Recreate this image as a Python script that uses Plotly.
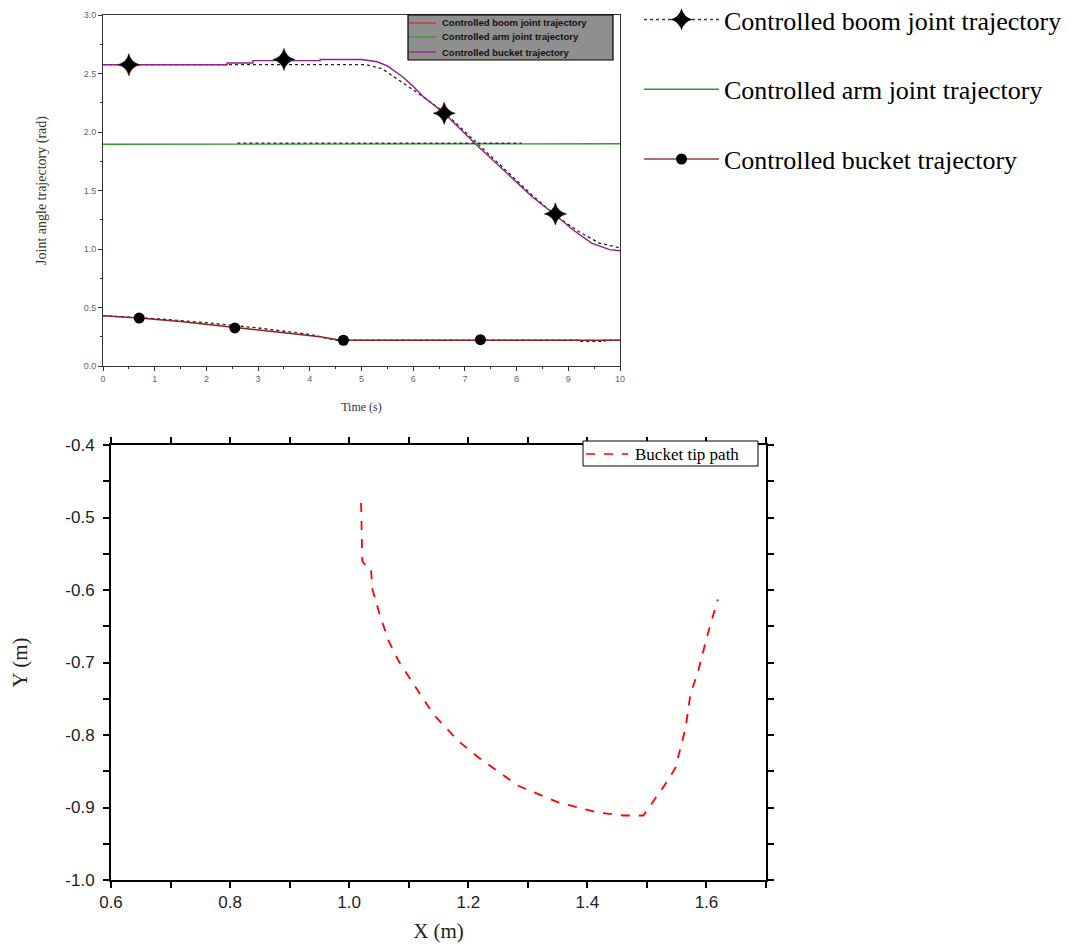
import plotly.graph_objects as go

# ---------------- Top chart data ----------------
boom_t = [0, 2.4, 2.4, 2.9, 2.9, 4.2, 4.2, 5.0, 5.3, 5.5, 5.8, 6.0, 6.2, 6.6, 7.2, 7.75, 8.3, 8.75, 9.1, 9.45, 9.8, 10]
boom_y = [2.575, 2.575, 2.59, 2.59, 2.61, 2.61, 2.62, 2.62, 2.60, 2.565, 2.47, 2.39, 2.30, 2.16, 1.90, 1.675, 1.447, 1.29, 1.16, 1.05, 0.995, 0.985]
boom_ref_t = [0, 5.1, 5.4, 5.7, 6.0, 6.6, 7.2, 7.8, 8.3, 8.8, 9.2, 9.6, 10]
boom_ref_y = [2.575, 2.575, 2.54, 2.45, 2.36, 2.17, 1.92, 1.67, 1.46, 1.27, 1.15, 1.05, 1.01]
boom_mk_t = [0.5, 3.5, 6.6, 8.75]
boom_mk_y = [2.575, 2.62, 2.16, 1.30]

arm_t = [0, 2.6, 2.6, 10]
arm_y = [1.895, 1.895, 1.90, 1.90]
arm_ref_t = [2.6, 8.1]
arm_ref_y = [1.905, 1.905]

bucket_t = [0, 0.7, 1.5, 2.5, 3.5, 4.2, 4.6, 10]
bucket_y = [0.43, 0.41, 0.38, 0.33, 0.285, 0.25, 0.22, 0.22]
bucket_ref_t = [0, 1, 2, 3, 4, 4.5, 9.2, 9.2, 9.7, 9.7, 10]
bucket_ref_y = [0.43, 0.405, 0.37, 0.325, 0.27, 0.22, 0.22, 0.21, 0.21, 0.22, 0.22]
bucket_mk_t = [0.7, 2.55, 4.65, 7.3]
bucket_mk_y = [0.41, 0.325, 0.22, 0.225]

top_x_ticks = [0, 1, 2, 3, 4, 5, 6, 7, 8, 9, 10]
top_y_ticks = [0.0, 0.5, 1.0, 1.5, 2.0, 2.5, 3.0]

inner_legend_names = ["Controlled boom joint trajectory",
                      "Controlled arm joint trajectory",
                      "Controlled bucket trajectory"]

# ---------------- Bottom chart data ----------------
tip_x = [1.020, 1.022, 1.028, 1.036, 1.037, 1.039, 1.051, 1.066, 1.083, 1.112, 1.141, 1.183, 1.217,
         1.284, 1.351, 1.418, 1.460, 1.494, 1.535, 1.548, 1.565, 1.573, 1.586, 1.602, 1.619]
tip_y = [-0.480, -0.560, -0.567, -0.569, -0.575, -0.599, -0.633, -0.670, -0.698, -0.734, -0.771, -0.808, -0.831,
         -0.870, -0.893, -0.907, -0.911, -0.911, -0.863, -0.845, -0.790, -0.744, -0.712, -0.661, -0.613]
tip_name = "Bucket tip path"
bottom_x_ticks = [0.6, 0.8, 1.0, 1.2, 1.4, 1.6]
bottom_y_ticks = [-1.0, -0.9, -0.8, -0.7, -0.6, -0.5, -0.4]

PURPLE = "#8e1f8e"
GREEN = "#2e9a2e"
DRED = "#8b2323"
inner_legend_colors = ["#c0392b", GREEN, "#a020a0"]

# page body has an 8px margin: figure occupies window pixels 8..1070 x 8..945
OFF = 8
W, H = 1070 - OFF, 945 - OFF
def px_x(p):
    return (p - OFF) / W
def px_y(p):
    return 1 - (p - OFF) / H

fig = go.Figure()

# --- top chart curves ---
fig.add_trace(go.Scatter(x=boom_ref_t, y=boom_ref_y, mode="lines",
                         line=dict(color="#222", width=1.3, dash="dot"), showlegend=False, xaxis="x", yaxis="y"))
fig.add_trace(go.Scatter(x=boom_t, y=boom_y, mode="lines",
                         line=dict(color=PURPLE, width=1.4), showlegend=False, xaxis="x", yaxis="y"))
fig.add_trace(go.Scatter(x=arm_t, y=arm_y, mode="lines",
                         line=dict(color=GREEN, width=1.4), showlegend=False, xaxis="x", yaxis="y"))
fig.add_trace(go.Scatter(x=arm_ref_t, y=arm_ref_y, mode="lines",
                         line=dict(color="#222", width=1.3, dash="dot"), showlegend=False, xaxis="x", yaxis="y"))
fig.add_trace(go.Scatter(x=bucket_ref_t, y=bucket_ref_y, mode="lines",
                         line=dict(color="#222", width=1.3, dash="dot"), showlegend=False, xaxis="x", yaxis="y"))
fig.add_trace(go.Scatter(x=bucket_t, y=bucket_y, mode="lines",
                         line=dict(color=DRED, width=1.4), showlegend=False, xaxis="x", yaxis="y"))
fig.add_trace(go.Scatter(x=boom_mk_t, y=boom_mk_y, mode="markers",
                         marker=dict(symbol="star-diamond", size=16, color="black",
                                     line=dict(color="#333", width=0.5)),
                         showlegend=False, xaxis="x", yaxis="y"))
fig.add_trace(go.Scatter(x=bucket_mk_t, y=bucket_mk_y, mode="markers",
                         marker=dict(symbol="circle", size=11, color="black"),
                         showlegend=False, xaxis="x", yaxis="y"))

# --- outer legend (legend2) entries ---
fig.add_trace(go.Scatter(x=[None], y=[None], mode="lines+markers", name="Controlled boom joint trajectory",
                         line=dict(color="#6a1b6a", width=1.5, dash="dot"),
                         marker=dict(symbol="star-diamond", size=18, color="black"),
                         legend="legend2", legendgroup="a", xaxis="x", yaxis="y"))
fig.add_trace(go.Scatter(x=[None], y=[None], mode="lines", name="Controlled arm joint trajectory",
                         line=dict(color=GREEN, width=1.5),
                         legend="legend2", legendgroup="b", xaxis="x", yaxis="y"))
fig.add_trace(go.Scatter(x=[None], y=[None], mode="lines+markers", name="Controlled bucket trajectory",
                         line=dict(color="#8b4040", width=1.5),
                         marker=dict(symbol="circle", size=11, color="black"),
                         legend="legend2", legendgroup="c", xaxis="x", yaxis="y"))

# --- bottom chart ---
fig.add_trace(go.Scatter(x=tip_x, y=tip_y, mode="lines", name=tip_name,
                         line=dict(color="#ff0000", width=1.8, dash="dash"),
                         showlegend=False, xaxis="x2", yaxis="y2"))

# --- inner legend of top chart, drawn as shapes + text ---
shapes = [dict(type="rect", xref="paper", yref="paper",
               x0=px_x(408), x1=px_x(613), y0=px_y(60), y1=px_y(15),
               fillcolor="#8f8f8f", line=dict(color="black", width=1.2), layer="above")]
annotations = []
row_y = [23, 37, 52]
for name, col, ry in zip(inner_legend_names, inner_legend_colors, row_y):
    shapes.append(dict(type="line", xref="paper", yref="paper",
                       x0=px_x(409), x1=px_x(436), y0=px_y(ry), y1=px_y(ry),
                       line=dict(color=col, width=1.3), layer="above"))
    annotations.append(dict(text=name, xref="paper", yref="paper", x=px_x(440), y=px_y(ry),
                            xanchor="left", yanchor="middle", showarrow=False,
                            font=dict(family="Liberation Sans, Arial", size=9.5, color="#111", weight="bold")))

# --- legend of bottom chart (box + dashed sample + text) ---
shapes.append(dict(type="rect", xref="paper", yref="paper",
                   x0=px_x(583), x1=px_x(758), y0=px_y(466), y1=px_y(441),
                   fillcolor="white", line=dict(color="black", width=1), layer="above"))
shapes.append(dict(type="line", xref="paper", yref="paper",
                   x0=px_x(586), x1=px_x(628), y0=px_y(454), y1=px_y(454),
                   line=dict(color="#ff0000", width=1.5, dash="dash"), layer="above"))
annotations.append(dict(text=tip_name, xref="paper", yref="paper", x=px_x(633), y=px_y(454),
                        xanchor="left", yanchor="middle", showarrow=False,
                        font=dict(family="Liberation Serif", size=17, color="black")))

small_font = dict(family="Liberation Sans, Arial", size=9, color="#666")
big_tick_font = dict(family="Liberation Sans Narrow, Liberation Sans", size=17, color="#222")

fig.update_layout(
    width=W, height=H,
    margin=dict(l=0, r=0, t=0, b=0, autoexpand=False),
    paper_bgcolor="white", plot_bgcolor="white",
    shapes=shapes, annotations=annotations,
    xaxis=dict(domain=[px_x(103), px_x(620)], range=[0, 10], anchor="y", automargin=False,
               tickvals=top_x_ticks, ticks="outside", ticklen=4, tickcolor="#333",
               tickfont=small_font, showgrid=False, zeroline=False,
               showline=True, linecolor="#333", linewidth=1, mirror=True,
               minor=dict(dtick=0.5, ticks="outside", ticklen=2, tickcolor="#333"),
               title=dict(text="Time (s)", font=dict(family="Liberation Serif", size=12, color="#333"),
                          standoff=19)),
    yaxis=dict(domain=[px_y(366), px_y(15)], range=[0, 3], anchor="x", automargin=False,
               tickvals=top_y_ticks, ticktext=[f"{v:.1f}" for v in top_y_ticks],
               ticks="outside", ticklen=4, tickcolor="#333",
               tickfont=small_font, showgrid=False, zeroline=False,
               showline=True, linecolor="#333", linewidth=1, mirror=True,
               minor=dict(dtick=0.25, ticks="outside", ticklen=2, tickcolor="#333"),
               title=dict(text="Joint angle trajectory (rad)",
                          font=dict(family="Liberation Serif", size=14, color="#333"), standoff=33)),
    xaxis2=dict(domain=[px_x(111), px_x(766)], range=[0.6, 1.7], anchor="y2", automargin=False,
                tickvals=bottom_x_ticks, ticktext=[f"{v:.1f}" for v in bottom_x_ticks],
                ticks="outside", ticklen=6, tickwidth=2, tickcolor="black",
                tickfont=big_tick_font, showgrid=False, zeroline=False,
                showline=True, linecolor="black", linewidth=2, mirror="allticks",
                minor=dict(dtick=0.1, ticks="outside", ticklen=6, tickwidth=2, tickcolor="black"),
                title=dict(text="X (m)", font=dict(family="Liberation Serif", size=21, color="#222"),
                           standoff=12)),
    yaxis2=dict(domain=[px_y(880), px_y(445)], range=[-1.0, -0.4], anchor="x2", automargin=False,
                tickvals=bottom_y_ticks, ticktext=[f"{v:.1f}" for v in bottom_y_ticks],
                ticks="outside", ticklen=6, tickwidth=2, tickcolor="black", ticklabelstandoff=5,
                tickfont=big_tick_font, showgrid=False, zeroline=False,
                showline=True, linecolor="black", linewidth=2, mirror="allticks",
                minor=dict(dtick=0.05, ticks="outside", ticklen=6, tickwidth=2, tickcolor="black"),
                title=dict(text="Y (m)", font=dict(family="Liberation Serif", size=21, color="#222"),
                           standoff=38)),
    legend2=dict(x=px_x(639), y=px_y(-4), xanchor="left", yanchor="top",
                 bgcolor="rgba(0,0,0,0)", borderwidth=0,
                 font=dict(family="Liberation Serif", size=26, color="black"),
                 itemwidth=75, tracegroupgap=33),
)

fig.write_html("out.html")
